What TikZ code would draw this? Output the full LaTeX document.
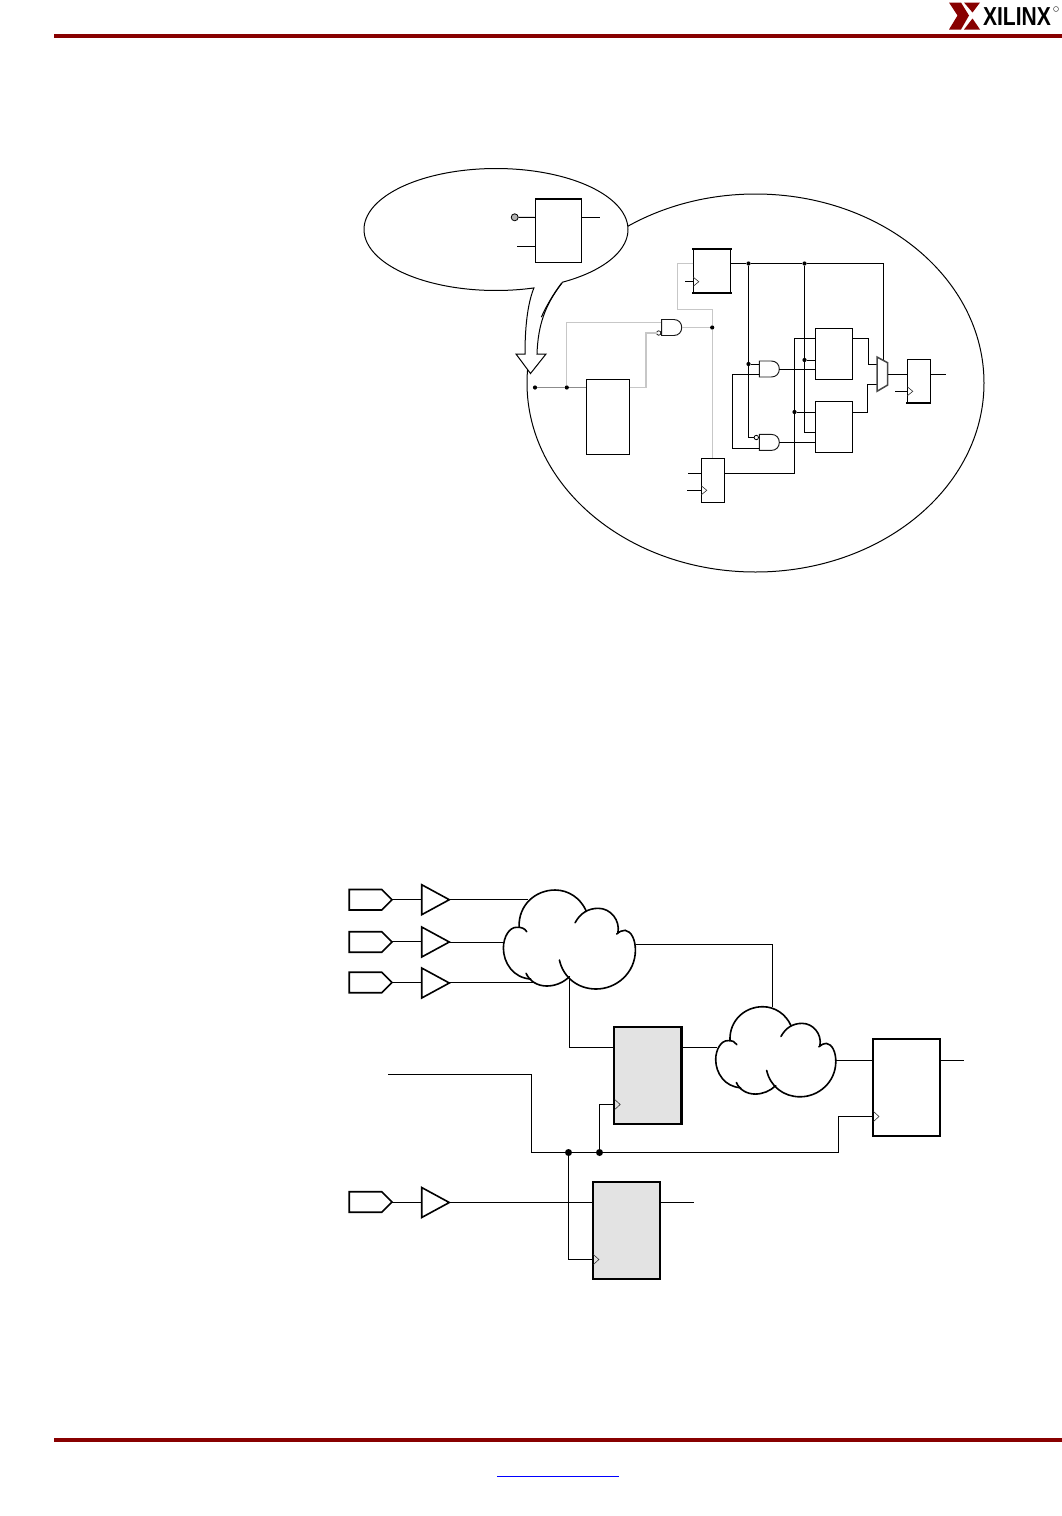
\documentclass[tikz,border=0pt]{standalone}
\usepackage{fontspec}
\setmainfont{Liberation Sans}
\usetikzlibrary{shapes.geometric}
\definecolor{xred}{RGB}{136,0,0}
\definecolor{ffgray}{RGB}{227,227,227}
\tikzset{
  x=1pt,y=-1pt,
  wire/.style={line width=1pt,black,line join=miter},
  bwire/.style={line width=1.05pt,black,line join=miter},
  gwire/.style={line width=1pt,black!33},
  lwire/.style={line width=1.1pt,black!22},
  mwire/.style={line width=1pt,black!45},
  boxn/.style={draw=black,line width=1pt,rectangle,inner sep=0pt,outer sep=0pt,fill=white},
  ffbig/.style={draw=black,line width=2.1pt,rectangle,inner sep=0pt,outer sep=0pt},
  thickedge/.style={line width=2pt,black,line cap=rect},
  clktri/.style={line width=0.6pt,black!80},
  sdot/.style={circle,fill=black,inner sep=0pt,outer sep=0pt,minimum size=4.2pt},
  bdot/.style={circle,fill=black,inner sep=0pt,outer sep=0pt,minimum size=7pt},
  bubble/.style={circle,draw=black,fill=white,line width=0.8pt,inner sep=0pt,outer sep=0pt,minimum size=4.4pt},
  padshape/.style={line width=1.7pt,black,fill=white,line join=miter},
  bufshape/.style={line width=1.6pt,black,fill=white,line join=miter},
  cloudline/.style={line width=1.6pt,black,line cap=round},
  gateshape/.style={line width=0.95pt,black!90,fill=white},
  padpic/.pic={\draw[padshape] (0,-10.3) -- (32.4,-10.3) -- (42.7,0) -- (32.4,10.3) -- (0,10.3) -- cycle;},
  gatepic/.pic={\draw[gateshape] (0,0) -- (12,0) .. controls (17,0) and (20,3.5) .. (20,8) .. controls (20,12.5) and (17,16) .. (12,16) -- (0,16) -- cycle;},
  cloudpic/.pic={
    \draw[cloudline] (15.7,36.7) .. controls (15,15) and (32,0) .. (51.7,0) .. controls (65,0) and (77,8) .. (82.7,20.7);
    \draw[cloudline] (71.7,32.7) .. controls (77,23) and (85,18.3) .. (95,18.3) .. controls (107,18.3) and (117,30) .. (114.5,43);
    \draw[cloudline] (113.3,44) .. controls (116,41.5) and (119,40.3) .. (121.7,40.3) .. controls (128,41) and (132,50) .. (132,60) .. controls (132,83) and (113,99) .. (92.7,99) .. controls (75,99) and (60,88) .. (56,70);
    \draw[cloudline] (66,86.7) .. controls (60,92.5) and (52,96) .. (43.3,96) .. controls (34,96) and (26,91) .. (22.7,83.3);
    \draw[cloudline] (27.3,89) .. controls (10,88) and (0,73) .. (0,58) .. controls (0,47) and (6,37) .. (13.3,37.3) .. controls (18,37) and (21.5,38.5) .. (23.3,41.7);
  }
}
\begin{document}
\begin{tikzpicture}
\useasboundingbox (0,0) rectangle (1062,1516);
\fill[white] (0,0) rectangle (1062,1516);

% page furniture
\coordinate (ruleTopA) at (54,35.8); \coordinate (ruleTopB) at (1062,35.8);
\coordinate (ruleBotA) at (54,1440); \coordinate (ruleBotB) at (1062,1440);
\coordinate (linkA) at (497,1476.3); \coordinate (linkB) at (619,1476.3);
\draw[xred,line width=3.6pt] (ruleTopA) -- (ruleTopB);
\draw[xred,line width=3.8pt] (ruleBotA) -- (ruleBotB);
\draw[blue,line width=1pt] (linkA) -- (linkB);
% logo
\fill[xred] (949,2.5) -- (961,2.5) -- (969,15.5) -- (961,29.5) -- (949,29.5) -- (957.5,15.5) -- cycle;
\fill[xred] (964,2.5) -- (980,2.5) -- (972.5,12.5) -- cycle;
\fill[xred] (972.5,18.5) -- (980,29.5) -- (964,29.5) -- cycle;
\node[inner sep=0pt,xscale=.81,text=black,anchor=center] (logotext) at (1017,16.5) {\fontsize{26}{26}\selectfont\bfseries XILINX};
\node[circle,draw=black!70,line width=.5pt,inner sep=0pt,minimum size=5pt] (logoreg) at (1056,9) {};

% ===== upper figure =====
\node[ellipse,draw=black,line width=1pt,inner sep=0pt,outer sep=0pt,minimum width=457pt,minimum height=378pt] (bigE) at (755.5,383) {};

% gray-wire junctions
\node[sdot] (d1) at (535,387.5) {};
\node[sdot] (d2) at (566.8,387.5) {};
\node[sdot] (d3) at (712.2,327.5) {};
\node[boxn] (lut) [minimum width=43.5pt,minimum height=74.5pt] at (607.8,416.8) {};
\draw[thickedge,line width=1.6pt] (lut.north east) -- (lut.south east);
\draw[mwire] (d1) -- (d2) -- (lut.west |- d2);
\coordinate (lutOut) at (lut.east |- d2);
\coordinate (g0a) at (646,387.5); \coordinate (g0b) at (646,333);
\coordinate (g0c) at (566.8,322.8); \coordinate (g0d) at (661.7,322.8);
\node[bubble,line width=.7pt] (g0bub) at (658.7,333) {};
\draw[lwire,line width=1.3pt] (d2) -- (g0c) -- (g0d);
\draw[lwire,line width=1.3pt] (lutOut) -- (g0a) -- (g0b) -- (g0bub);
\pic at (661.7,319.5) {gatepic};
\coordinate (g0out) at (681.7,327.5);
\draw[lwire] (g0out) -- (d3);

% flip-flop 1
\node[boxn] (ff1) [minimum width=37.4pt,minimum height=44.3pt] at (712,270.85) {};
\draw[thickedge] (ff1.north west) -- (ff1.north east);
\draw[thickedge] (ff1.south west) -- (ff1.south east);
\coordinate (ff1clk) at (693.3,281.7);
\coordinate (ff1clkin) at (685,281.7);
\draw[wire] (ff1clkin) -- (ff1clk);
\draw[clktri] (ff1clk) ++(0,-4.5) -- ++(5.5,4.5) -- ++(-5.5,4.5);
\coordinate (fbA) at (693.3,263.3); \coordinate (fbB) at (677.7,263.3);
\coordinate (fbC) at (677.7,309.3); \coordinate (fbD) at (712.2,309.3);
\draw[lwire] (fbA) -- (fbB) -- (fbC) -- (fbD) -- (d3);

% flip-flop 3
\node[boxn] (ff3) [minimum width=23.4pt,minimum height=44pt] at (713,480.3) {};
\draw[lwire] (d3) -- (d3 |- ff3.north);
\coordinate (ff3inA) at (688,473.3); \coordinate (ff3inAe) at (701.3,473.3);
\coordinate (ff3inB) at (687,490.3); \coordinate (ff3clk) at (701.3,490.3);
\draw[wire] (ff3inA) -- (ff3inAe);
\draw[wire] (ff3inB) -- (ff3clk);
\draw[clktri] (ff3clk) ++(0,-4.5) -- ++(5.5,4.5) -- ++(-5.5,4.5);

% dots on the black nets
\node[sdot] (n1) at (748.5,263.5) {};
\node[sdot] (n2) at (804.5,263.5) {};
\node[sdot] (n3) at (748.5,364) {};
\node[sdot] (n4) at (804.5,360) {};
\node[sdot] (n5) at (794.5,412) {};

% boxes
\node[boxn] (bx1) [minimum width=37pt,minimum height=51pt] at (833.8,353.8) {};
\node[boxn] (bx2) [minimum width=37pt,minimum height=51pt] at (833.8,426.8) {};
\coordinate (qEnd) at (730.7,263.5); \coordinate (qCor) at (883.5,263.5); \coordinate (qMux) at (883.5,360);
\draw[wire] (qEnd) -- (n1) -- (n2) -- (qCor) -- (qMux);

% gates
\pic at (759.3,361) {gatepic};
\pic at (759.3,434.4) {gatepic};
\node[bubble] (gbub) at (756.3,437.5) {};
\draw[wire] (n1) -- (n3) -- (n3 |- gbub) -- (gbub);
\coordinate (gAin) at (759.3,364);
\draw[wire] (n3) -- (gAin);
\coordinate (crA) at (759.3,374.5); \coordinate (crB) at (732.5,374.5);
\coordinate (crC) at (732.5,448.5); \coordinate (crD) at (759.3,448.5);
\draw[wire] (crA) -- (crB) -- (crC) -- (crD);
\coordinate (n2c) at (804.5,432.5);
\draw[wire] (n2) -- (n4) -- (n2c) -- (n2c -| bx2.west);
\draw[wire] (n4) -- (n4 -| bx1.west);
\coordinate (ff3q) at (724.7,473.5); \coordinate (ff3c) at (794.5,473.5); \coordinate (ff3t) at (794.5,338.5);
\draw[wire] (ff3q) -- (ff3c) -- (n5) -- (ff3t) -- (ff3t -| bx1.west);
\draw[wire] (n5) -- (n5 -| bx2.west);
\coordinate (gAout) at (779.3,369.5); \coordinate (gBout) at (779.3,442.5);
\draw[wire] (gAout) -- (gAout -| bx1.west);
\draw[wire] (gBout) -- (gBout -| bx2.west);

% mux
\coordinate (bx1o) at (852.3,338.5); \coordinate (bx1c) at (868.5,338.5); \coordinate (bx1d) at (868.5,364.5); \coordinate (mxA) at (877,364.5);
\coordinate (bx2o) at (852.3,412.5); \coordinate (bx2c) at (867.5,412.5); \coordinate (bx2d) at (867.5,384.5); \coordinate (mxB) at (877,384.5);
\draw[wire] (bx1o) -- (bx1c) -- (bx1d) -- (mxA);
\draw[wire] (bx2o) -- (bx2c) -- (bx2d) -- (mxB);
\draw[line width=1.5pt,black!72,fill=white,line join=miter] (877,357) -- (887.7,362.8) -- (887.7,385) -- (877,391.3) -- cycle;
\node[boxn] (ff4) [minimum width=23pt,minimum height=44pt] at (918.8,381.3) {};
\draw[thickedge] (ff4.south west) -- (ff4.south east);
\coordinate (mxO) at (887.7,374.5); \coordinate (ff4in) at (907.3,374.5);
\draw[wire] (mxO) -- (ff4in);
\coordinate (ff4o) at (930.3,374.5); \coordinate (ff4oe) at (945.7,374.5);
\draw[wire] (ff4o) -- (ff4oe);
\coordinate (ff4ci) at (895,391.3); \coordinate (ff4clk) at (907.3,391.3);
\draw[wire] (ff4ci) -- (ff4clk);
\draw[clktri] (ff4clk) ++(0,-4.5) -- ++(5.5,4.5) -- ++(-5.5,4.5);

% callout
\draw[line width=1pt,black,fill=white,line join=miter]
  plot[domain=60:-286.7,samples=140,smooth] ({496+132*cos(\x)},{229.5+61*sin(\x)})
  .. controls (527,305) and (525,330) .. (525,354) -- (516,354) -- (530.5,373.5) -- (546,354) -- (537,354)
  .. controls (538,325) and (545,305) .. (562,283);
% the big ellipse shows through the tail
\draw[line width=1pt,black] plot[domain=200.4:212,samples=12,smooth] ({755.5+228.5*cos(\x)},{383+189*sin(\x)});
\node[boxn,line width=0.9pt] (cbox) [minimum width=46.4pt,minimum height=63.6pt] at (558.5,230.5) {};
\draw[thickedge,line width=1.7pt,line cap=butt] (cbox.north west) -- (cbox.north east);
\node[circle,draw=black,fill=black!30,line width=.8pt,inner sep=0pt,minimum size=7pt] (cpin) at (514.7,217.3) {};
\coordinate (cboxL) at (535.3,217.5); \coordinate (cboxR) at (581.7,217.5); \coordinate (cboxRe) at (600,217.5);
\coordinate (cboxL2) at (535.3,246.5); \coordinate (cboxL2e) at (517,246.5);
\draw[wire] (cpin) -- (cboxL);
\draw[wire] (cboxR) -- (cboxRe);
\draw[wire] (cboxL2e) -- (cboxL2);

% ===== lower figure =====
\pic at (349.3,899.7) {padpic};
\pic at (349.3,942) {padpic};
\pic at (349.3,982.5) {padpic};
\pic at (349.3,1202) {padpic};
\node[inner sep=0pt] (buf1) at (421.7,899.7) {};
\node[inner sep=0pt] (buf2) at (421.7,942) {};
\node[inner sep=0pt] (buf3) at (421.7,983) {};
\node[inner sep=0pt] (buf4) at (421.7,1202.5) {};
\foreach \b in {buf1,buf2,buf3,buf4}{
  \draw[bufshape] (\b) ++(0,-15) -- ++(27.6,15) -- ++(-27.6,15) -- cycle;
}
\coordinate (pad1o) at (392,899.5); \coordinate (pad2o) at (392,941.5); \coordinate (pad3o) at (392,982.5); \coordinate (pad4o) at (392,1202.5);
\draw[bwire] (pad1o) -- (pad1o -| buf1);
\draw[bwire] (pad2o) -- (pad2o -| buf2);
\draw[bwire] (pad3o) -- (pad3o -| buf3);
\draw[bwire] (pad4o) -- (pad4o -| buf4);
\coordinate (buf1o) at (449.3,899.5); \coordinate (cl1a) at (528,899.5);
\coordinate (buf2o) at (449.3,942.5); \coordinate (cl1b) at (503.7,942.5);
\coordinate (buf3o) at (449.3,982.5); \coordinate (cl1c) at (534,982.5);
\draw[bwire] (buf1o) -- (cl1a);
\draw[bwire] (buf2o) -- (cl1b);
\draw[bwire] (buf3o) -- (cl1c);
\pic at (503.4,890) {cloudpic};
\pic[scale=.91] at (715.7,1006.7) {cloudpic};

\node[ffbig,fill=ffgray] (ffA) [minimum width=67.5pt,minimum height=97.6pt] at (647.7,1075.5) {};
\node[ffbig,fill=ffgray] (ffB) [minimum width=67.3pt,minimum height=97pt] at (626.3,1230.5) {};
\node[ffbig,fill=white] (ffC) [minimum width=67.6pt,minimum height=96.7pt] at (906.5,1087.4) {};

\coordinate (cl1d) at (569.5,978); \coordinate (cl1e) at (569.5,1047.5);
\draw[bwire] (cl1d) -- (cl1e) -- (cl1e -| ffA.west);
\coordinate (cl1r) at (636,944.5); \coordinate (cl1s) at (772.5,944.5); \coordinate (cl2t) at (772.5,1006.8);
\draw[bwire] (cl1r) -- (cl1s) -- (cl2t);
\coordinate (ffAo) at (681.5,1047.5); \coordinate (cl2l) at (716.8,1047.5);
\draw[bwire] (ffAo) -- (cl2l);
\coordinate (cl2r) at (836.4,1060.5); \coordinate (ffCi) at (872.7,1060.5);
\draw[bwire] (cl2r) -- (ffCi);
\coordinate (ffCo) at (940.3,1060.5); \coordinate (ffCoe) at (964,1060.5);
\draw[bwire] (ffCo) -- (ffCoe);

\node[bdot] (ck1) at (568.5,1152.5) {};
\node[bdot] (ck2) at (599.5,1152.5) {};
\coordinate (ckS) at (388.3,1074.5); \coordinate (ckT) at (531.5,1074.5); \coordinate (ckU) at (531.5,1152.5);
\coordinate (ckV) at (838.5,1152.5); \coordinate (ckW) at (838.5,1116.5); \coordinate (ffCclk) at (872.7,1116.5);
\draw[bwire] (ckS) -- (ckT) -- (ckU) -- (ck1) -- (ck2) -- (ckV) -- (ckW) -- (ffCclk);
\coordinate (ckA) at (599.5,1104.5); \coordinate (ffAclk) at (613.9,1104.5);
\draw[bwire] (ck2) -- (ckA) -- (ffAclk);
\coordinate (ckB) at (568.5,1259.5); \coordinate (ffBclk) at (592.6,1259.5);
\draw[bwire] (ck1) -- (ckB) -- (ffBclk);
\draw[clktri] (ffAclk) ++(.8,-5) -- ++(5.5,5) -- ++(-5.5,5);
\draw[clktri] (ffBclk) ++(.8,-5) -- ++(5.5,5) -- ++(-5.5,5);
\draw[clktri] (ffCclk) ++(.8,-5) -- ++(5.5,5) -- ++(-5.5,5);

\coordinate (buf4o) at (449.3,1202.5); \coordinate (ffBi) at (592.6,1202.5);
\draw[bwire] (buf4o) -- (ffBi);
\coordinate (ffBo) at (660,1202.5); \coordinate (ffBoe) at (694,1202.5);
\draw[bwire] (ffBo) -- (ffBoe);
\end{tikzpicture}
\end{document}
